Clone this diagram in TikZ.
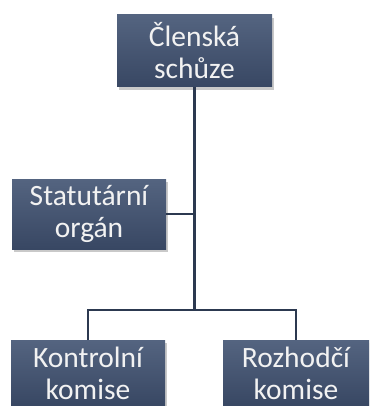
\documentclass[tikz,border=0pt]{standalone}
\usepackage{fontspec}
\setmainfont{Carlito}
\usetikzlibrary{shadows}
\definecolor{boxtop}{RGB}{84,100,128}
\definecolor{boxbot}{RGB}{56,71,99}
\definecolor{linec}{RGB}{44,57,80}
\tikzset{
  orgbox/.style={rectangle, top color=boxtop, bottom color=boxbot, draw=none,
    text=white!95!black, align=center, inner sep=0pt,
    font=\fontsize{29.5}{32}\selectfont,
    drop shadow={shadow xshift=2pt, shadow yshift=-3pt, opacity=0.3, fill=black!70}},
  conn/.style={draw=linec, line width=2.2pt}
}
\begin{document}
\begin{tikzpicture}[x=1pt,y=-1pt]
\useasboundingbox (0,0) rectangle (369,406);
\clip (0,0) rectangle (369,406);
\node[orgbox, minimum width=155pt, minimum height=72pt] (top) at (194.5,51) {Členská\\schůze};
\node[orgbox, minimum width=154pt, minimum height=70pt] (stat) at (89,214) {Statutární\\orgán};
\node[orgbox, minimum width=154pt, minimum height=66pt, anchor=north] (kon) at (88,340) {Kontrolní\\komise};
\node[orgbox, minimum width=146pt, minimum height=66pt, anchor=north] (roz) at (296,340) {Rozhodčí\\komise};
\coordinate (j) at (194.5,310);
\draw[conn] (top.south) -- (j);
\draw[conn] (stat.east) -- (stat.east -| top.south);
\draw[conn] (kon.north) |- (j) -| (roz.north);
\end{tikzpicture}
\end{document}
